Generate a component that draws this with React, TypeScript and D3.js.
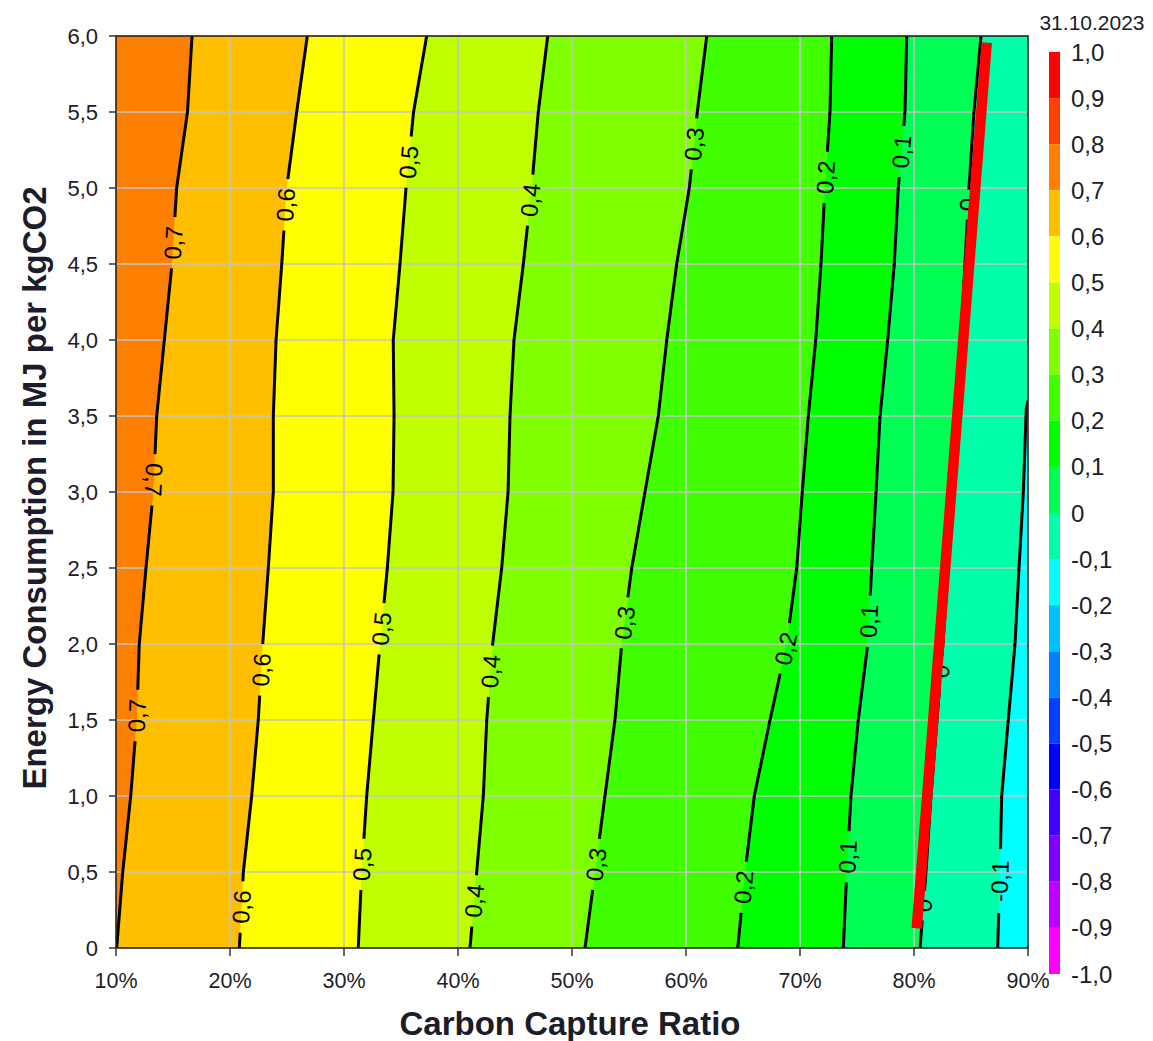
import React from 'react';
import * as d3 from 'd3';

// ---------- DATA ----------
// y sample positions (MJ per kgCO2) at which contour x-positions (%) were read
const ySamples = [0, 0.5, 1, 1.5, 2, 2.5, 3, 3.5, 4, 4.5, 5, 5.5, 6];

// contour lines: x (% capture) at each y sample
const c07 = [10.06, 10.59, 11.29, 11.82, 12.04, 12.63, 13.27, 13.57, 14.24, 14.91, 15.32, 16.27, 16.67];
const c06 = [20.82, 21.17, 21.9, 22.48, 22.87, 23.36, 23.8, 23.8, 24.04, 24.54, 24.97, 25.85, 26.78];
const c05 = [31.25, 31.55, 31.99, 32.57, 33.16, 33.8, 34.3, 34.39, 34.32, 34.91, 35.44, 36.1, 37.25];
const c04 = [41.05, 41.64, 42.22, 42.52, 43.04, 43.83, 44.39, 44.56, 44.91, 45.73, 46.46, 47.04, 47.87];
const c03 = [51.14, 52.02, 52.89, 53.77, 54.36, 55.24, 56.4, 57.57, 58.31, 59.18, 60.29, 60.99, 61.82];
const c02 = [64.54, 65.18, 65.99, 67.37, 68.83, 69.71, 70.2, 70.73, 71.38, 71.84, 72.19, 72.63, 72.78];
const c01 = [73.8, 74.1, 74.47, 75.11, 75.94, 76.29, 76.67, 77.02, 77.69, 78.27, 78.62, 79.21, 79.36];
const c00 = [80.53, 81.05, 81.49, 82.02, 82.54, 82.98, 83.42, 83.77, 84.12, 84.47, 84.82, 85.26, 85.88];
// -0.1 line leaves through the right border
const cm01x = [87.34, 87.54, 87.69, 88.27, 88.86, 89.21, 89.59, 89.85, 90.0];
const cm01y = [0, 0.5, 1, 1.5, 2, 2.5, 3, 3.55, 3.6];

const contourLevels = [0.7, 0.6, 0.5, 0.4, 0.3, 0.2, 0.1, 0, -0.1];

// contour labels: level, y position, flipped reading direction
const labelLevels = [0.7, 0.7, 0.7, 0.6, 0.6, 0.6, 0.5, 0.5, 0.5, 0.4, 0.4, 0.4, 0.3, 0.3, 0.3, 0.2, 0.2, 0.2, 0.1, 0.1, 0.1, 0, 0, 0, -0.1];
const labelYs = [4.64, 3.08, 1.53, 4.89, 1.83, 0.27, 5.17, 2.1, 0.55, 4.92, 1.82, 0.31, 5.29, 2.14, 0.55, 5.07, 1.97, 0.4, 5.24, 2.15, 0.6, 4.89, 1.82, 0.28, 0.44];
const labelFlip = [false, true, false, false, false, false, false, false, false, false, false, false, false, false, false, false, false, false, false, false, false, false, false, false, false];

// red reference line (x %, y)
const redX = [80.24, 86.38];
const redY = [0.13, 5.956];

// colour bar
const cbarBreaks = [1.0, 0.9, 0.8, 0.7, 0.6, 0.5, 0.4, 0.3, 0.2, 0.1, 0, -0.1, -0.2, -0.3, -0.4, -0.5, -0.6, -0.7, -0.8, -0.9, -1.0];
const cbarColors = ['#FF0000', '#FF4000', '#FF8000', '#FFBF00', '#FFFF00', '#BFFF00', '#80FF00', '#40FF00', '#00FF00', '#00FF55', '#00FFAA', '#00FFFF', '#00BFFF', '#0080FF', '#0040FF', '#0000FF', '#4000FF', '#8000FF', '#BF00FF', '#FF00FF'];

const xTicks = [10, 20, 30, 40, 50, 60, 70, 80, 90];
const yTicks = [0, 0.5, 1, 1.5, 2, 2.5, 3, 3.5, 4, 4.5, 5, 5.5, 6];

const dateText = '31.10.2023';
const xTitle = 'Carbon Capture Ratio';
const yTitle = 'Energy Consumption in MJ per kgCO2';

// ---------- CHART ----------
const W = 1153, H = 1041;
const L = 116, R = 1028, T = 36, B = 948;
const FONT = '"Liberation Sans", Arial, sans-serif';
const TXT = '#1c1c2a';

const fmt = (v: number) => (Math.abs(v) < 1e-9 ? '0' : v.toFixed(1).replace('.', ','));

export default function App() {
  const x = d3.scaleLinear().domain([10, 90]).range([L, R]);
  const y = d3.scaleLinear().domain([0, 6]).range([B, T]);
  const cy = d3.scaleLinear().domain([-1, 1]).range([974, 52]);

  const lineData: Record<string, [number, number][]> = {};
  const series: [number, number[], number[]][] = [
    [0.7, c07, ySamples], [0.6, c06, ySamples], [0.5, c05, ySamples], [0.4, c04, ySamples],
    [0.3, c03, ySamples], [0.2, c02, ySamples], [0.1, c01, ySamples], [0, c00, ySamples], [-0.1, cm01x, cm01y],
  ];
  series.forEach(([lv, xs, ys]) => {
    lineData[lv.toFixed(1)] = xs.map((v, i) => [v, ys[i]]);
  });

  const colorAbove = (lv: number) => {
    const i = cbarBreaks.findIndex((b) => Math.abs(b - (lv + 0.1)) < 1e-6);
    return cbarColors[i];
  };
  const colorBelow = (lv: number) => {
    const i = cbarBreaks.findIndex((b) => Math.abs(b - lv) < 1e-6);
    return cbarColors[i];
  };

  const line = d3.line<[number, number]>().x((d) => x(d[0])).y((d) => y(d[1]));

  // region left of a contour line (painter's algorithm, lowest level first)
  const leftRegion = (pts: [number, number][]) => {
    const last = pts[pts.length - 1];
    const closing: [number, number][] = [];
    if (last[1] < 6 - 1e-6) closing.push([90, 6]);
    closing.push([10, 6], [10, 0]);
    return line([...pts, ...closing]) + 'Z';
  };

  const sortedLevels = [...contourLevels].sort((a, b) => a - b);
  const lowest = sortedLevels[0];

  // label positions
  const labels = labelLevels.map((lv, i) => {
    const pts = lineData[lv.toFixed(1)];
    const ly = labelYs[i];
    let k = 0;
    while (k < pts.length - 2 && pts[k + 1][1] < ly) k++;
    const p0 = pts[k], p1 = pts[k + 1];
    const t = (ly - p0[1]) / (p1[1] - p0[1]);
    const lx = p0[0] + t * (p1[0] - p0[0]);
    const ang = (Math.atan2(y(p1[1]) - y(p0[1]), x(p1[0]) - x(p0[0])) * 180) / Math.PI + (labelFlip[i] ? 180 : 0);
    const text = fmt(lv);
    const w = text.length === 1 ? 30 : text.length * 12.5 + 14;
    return { px: x(lx), py: y(ly), ang, text, w };
  });

  const redPts: [number, number][] = redX.map((v, i) => [v, redY[i]]);

  return (
    <svg width={W} height={H} style={{ position: 'absolute', left: 0, top: 0, display: 'block', background: '#fff' }} fontFamily={FONT}>
      <defs>
        <clipPath id="plotClip">
          <rect x={L} y={T} width={R - L} height={B - T} />
        </clipPath>
        <mask id="lblMask" maskUnits="userSpaceOnUse" x={0} y={0} width={W} height={H}>
          <rect x={0} y={0} width={W} height={H} fill="white" />
          {labels.map((l, i) => (
            <rect key={i} x={-l.w / 2} y={-15} width={l.w} height={30} fill="black"
              transform={`translate(${l.px},${l.py}) rotate(${l.ang})`} />
          ))}
        </mask>
      </defs>

      <g clipPath="url(#plotClip)">
        <rect x={L} y={T} width={R - L} height={B - T} fill={colorBelow(lowest)} />
        {sortedLevels.map((lv) => (
          <path key={lv} d={leftRegion(lineData[lv.toFixed(1)])} fill={colorAbove(lv)} />
        ))}
        {/* grid */}
        {xTicks.slice(1, -1).map((t) => (
          <line key={'gx' + t} x1={x(t)} x2={x(t)} y1={T} y2={B} stroke="#C4C4C4" strokeWidth={1.6} />
        ))}
        {yTicks.slice(1, -1).map((t) => (
          <line key={'gy' + t} x1={L} x2={R} y1={y(t)} y2={y(t)} stroke="#C4C4C4" strokeWidth={1.6} />
        ))}
        {/* contour lines */}
        <g mask="url(#lblMask)">
          {contourLevels.map((lv) => (
            <path key={'c' + lv} d={line(lineData[lv.toFixed(1)]) || ''} fill="none" stroke="#000" strokeWidth={3} />
          ))}
        </g>
        {labels.map((l, i) => (
          <text key={'t' + i} transform={`translate(${l.px},${l.py}) rotate(${l.ang})`} textAnchor="middle"
            dominantBaseline="central" fontSize={24} fill="#000">{l.text}</text>
        ))}
        {/* red line */}
        <path d={line(redPts) || ''} stroke="#FF0000" strokeWidth={10.5} strokeLinecap="butt" fill="none" />
      </g>

      {/* frame */}
      <rect x={L} y={T} width={R - L} height={B - T} fill="none" stroke="#222" strokeWidth={1.6} />

      {/* y axis */}
      {yTicks.map((t) => (
        <g key={'yt' + t}>
          <line x1={L - 7} x2={L} y1={y(t)} y2={y(t)} stroke="#333" strokeWidth={1.5} />
          <text x={98} y={y(t)} textAnchor="end" dominantBaseline="central" fontSize={22} fill={TXT}>{fmt(t)}</text>
        </g>
      ))}
      {/* x axis */}
      {xTicks.map((t) => (
        <g key={'xt' + t}>
          <line x1={x(t)} x2={x(t)} y1={B} y2={B + 8} stroke="#333" strokeWidth={1.5} />
          <text x={x(t)} y={988} textAnchor="middle" fontSize={21.5} fill={TXT}>{t + '%'}</text>
        </g>
      ))}

      <text x={570} y={1035} textAnchor="middle" fontSize={33} fontWeight="bold" fill={TXT}>{xTitle}</text>
      <text transform={`translate(46,488) rotate(-90)`} textAnchor="middle" fontSize={33} fontWeight="bold" fill={TXT}>{yTitle}</text>

      {/* colour bar */}
      {cbarColors.map((c, i) => (
        <rect key={'cb' + i} x={1049} y={cy(cbarBreaks[i])} width={11} height={cy(cbarBreaks[i + 1]) - cy(cbarBreaks[i])} fill={c} />
      ))}
      {cbarBreaks.map((b) => (
        <text key={'cl' + b} x={1071} y={cy(b)} dominantBaseline="central" fontSize={24} fill={TXT}>{fmt(b)}</text>
      ))}
      <text x={1092} y={30} textAnchor="middle" fontSize={21} fill={TXT}>{dateText}</text>
    </svg>
  );
}
